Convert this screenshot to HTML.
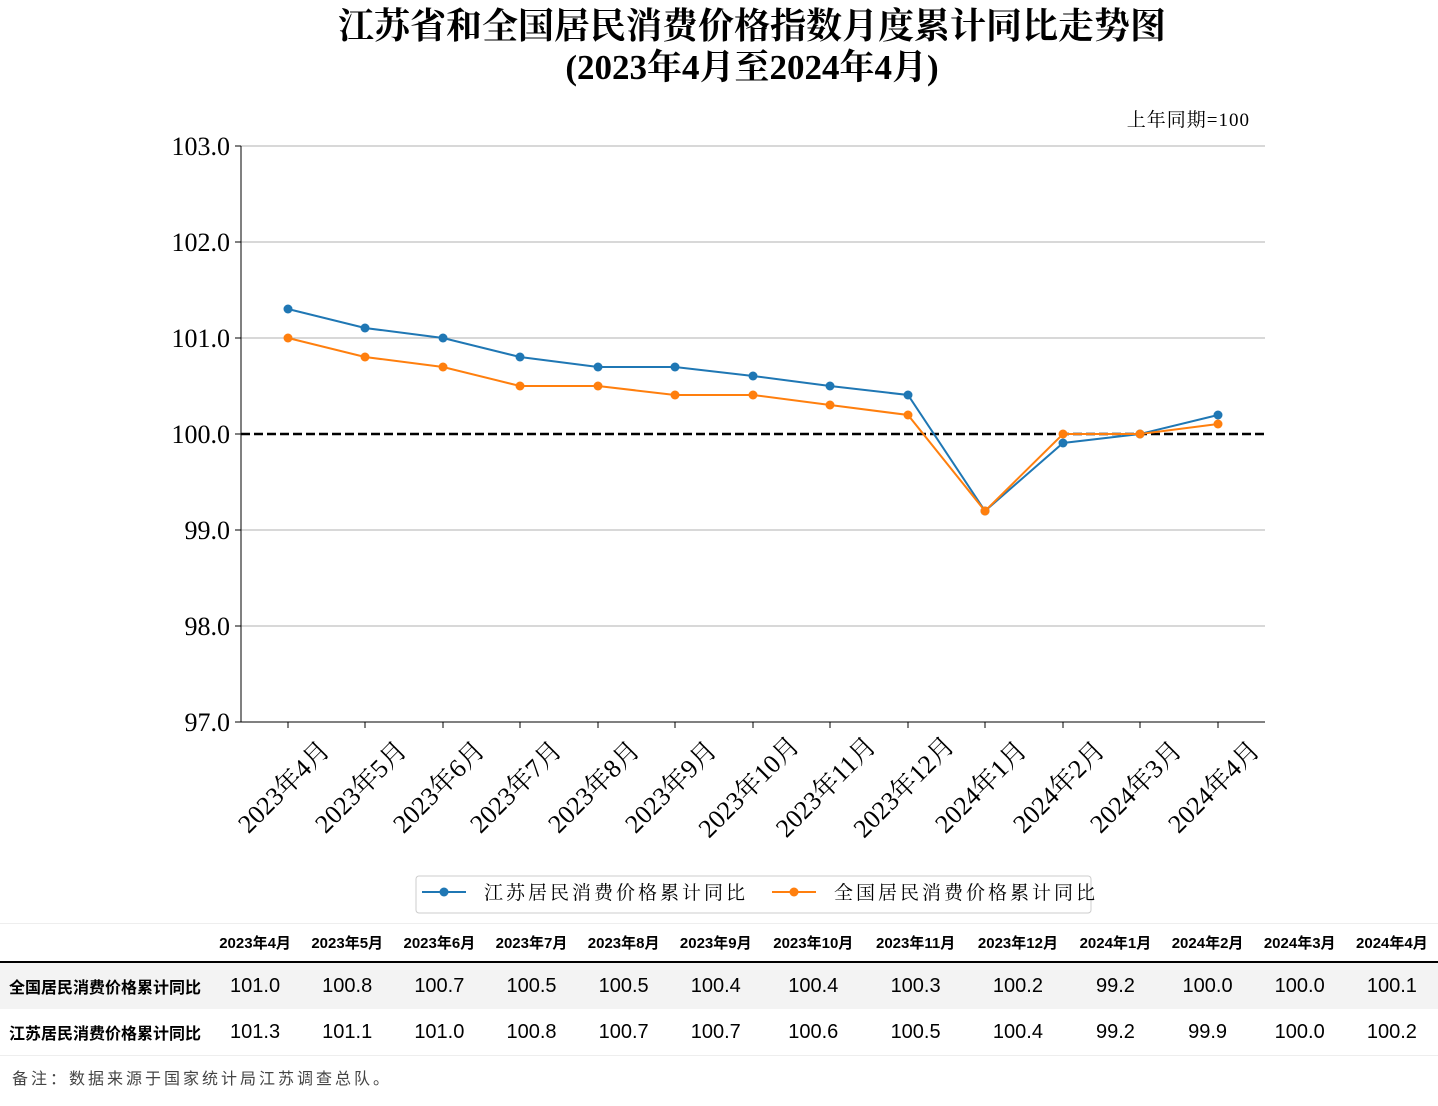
<!DOCTYPE html>
<html><head><meta charset="utf-8"><style>
body{margin:0;width:1438px;height:1106px;background:#fff;position:relative;overflow:hidden;font-family:"Liberation Serif","Noto Serif CJK SC",serif}
.t{position:absolute;left:32px;width:1440px;text-align:center;color:#000;font-weight:bold}
table{position:absolute;left:0;top:923px;width:1438px;border-collapse:collapse;font-family:"Liberation Sans","Noto Sans CJK SC",sans-serif}
td,th{padding:0;text-align:center}
th{height:37px;font-size:15px;font-weight:bold;border-bottom:2px solid #000}
td{height:46px;font-size:20px}
td.l{text-align:left;padding-left:9px;font-weight:bold;font-size:16px;width:200px}
</style></head><body>
<div class="t" style="top:5px;font-size:36px;line-height:42px">江苏省和全国居民消费价格指数月度累计同比走势图</div>
<div class="t" style="top:47px;font-size:35px;line-height:42px">(2023年4月至2024年4月)</div>
<svg width="1438" height="920" style="position:absolute;left:0;top:0" font-family="Liberation Serif, Noto Serif CJK SC, serif">
<text x="1250" y="126" font-size="19" text-anchor="end" letter-spacing="1">上年同期=100</text>
<g stroke="#b0b0b0" stroke-width="1">
<line x1="241" x2="1265" y1="146" y2="146"/><line x1="241" x2="1265" y1="242" y2="242"/><line x1="241" x2="1265" y1="338" y2="338"/><line x1="241" x2="1265" y1="530" y2="530"/><line x1="241" x2="1265" y1="626" y2="626"/></g>
<line x1="241" x2="1265" y1="434" y2="434" stroke="#000" stroke-width="2.5" stroke-dasharray="9,4"/>
<line x1="241" x2="241" y1="146" y2="722" stroke="#000"/>
<line x1="241" x2="1265" y1="722" y2="722" stroke="#000"/>
<g font-size="26" text-anchor="end">
<text x="230" y="155">103.0</text><text x="230" y="251">102.0</text><text x="230" y="347">101.0</text><text x="230" y="443">100.0</text><text x="230" y="539">99.0</text><text x="230" y="635">98.0</text><text x="230" y="731">97.0</text></g>
<g stroke="#000"><line x1="235" x2="241" y1="146" y2="146"/><line x1="235" x2="241" y1="242" y2="242"/><line x1="235" x2="241" y1="338" y2="338"/><line x1="235" x2="241" y1="434" y2="434"/><line x1="235" x2="241" y1="530" y2="530"/><line x1="235" x2="241" y1="626" y2="626"/><line x1="235" x2="241" y1="722" y2="722"/></g>
<g id="xt" stroke="#000" font-size="26"></g>
<polyline fill="none" stroke="#1f77b4" stroke-width="2" points="288,309 365,328 443,338 520,357 598,367 675,367 753,376 830,386 908,395 985,511 1063,443 1140,434 1218,415"/>
<polyline fill="none" stroke="#ff7f0e" stroke-width="2" points="288,338 365,357 443,367 520,386 598,386 675,395 753,395 830,405 908,415 985,511 1063,434 1140,434 1218,424"/>
<g fill="#1f77b4"><circle cx="288" cy="309" r="4.5"/><circle cx="365" cy="328" r="4.5"/><circle cx="443" cy="338" r="4.5"/><circle cx="520" cy="357" r="4.5"/><circle cx="598" cy="367" r="4.5"/><circle cx="675" cy="367" r="4.5"/><circle cx="753" cy="376" r="4.5"/><circle cx="830" cy="386" r="4.5"/><circle cx="908" cy="395" r="4.5"/><circle cx="985" cy="511" r="4.5"/><circle cx="1063" cy="443" r="4.5"/><circle cx="1140" cy="434" r="4.5"/><circle cx="1218" cy="415" r="4.5"/></g>
<g fill="#ff7f0e"><circle cx="288" cy="338" r="4.5"/><circle cx="365" cy="357" r="4.5"/><circle cx="443" cy="367" r="4.5"/><circle cx="520" cy="386" r="4.5"/><circle cx="598" cy="386" r="4.5"/><circle cx="675" cy="395" r="4.5"/><circle cx="753" cy="395" r="4.5"/><circle cx="830" cy="405" r="4.5"/><circle cx="908" cy="415" r="4.5"/><circle cx="985" cy="511" r="4.5"/><circle cx="1063" cy="434" r="4.5"/><circle cx="1140" cy="434" r="4.5"/><circle cx="1218" cy="424" r="4.5"/></g>
<rect x="416" y="876" width="675" height="37" rx="3" fill="#fff" stroke="#ccc"/>
<line x1="422" x2="466" y1="892" y2="892" stroke="#1f77b4" stroke-width="2"/><circle cx="444" cy="892" r="4.5" fill="#1f77b4"/>
<text x="484" y="899" font-size="19" letter-spacing="3">江苏居民消费价格累计同比</text>
<line x1="772" x2="816" y1="892" y2="892" stroke="#ff7f0e" stroke-width="2"/><circle cx="794" cy="892" r="4.5" fill="#ff7f0e"/>
<text x="834" y="899" font-size="19" letter-spacing="3">全国居民消费价格累计同比</text>
</svg>
<script>
var xs=[288,365,443,520,598,675,753,830,908,985,1063,1140,1218],
lb=["2023年4月","2023年5月","2023年6月","2023年7月","2023年8月","2023年9月","2023年10月","2023年11月","2023年12月","2024年1月","2024年2月","2024年3月","2024年4月"],h="";
for(var i=0;i<13;i++){h+='<line x1="'+xs[i]+'" x2="'+xs[i]+'" y1="722" y2="728"/>';h+='<text stroke="none" text-anchor="middle" transform="translate('+(xs[i]+2)+',793) rotate(-45)">'+lb[i]+'</text>';}
document.getElementById("xt").innerHTML=h;
</script>
<table>
<tr style="border-top:1px solid #eee"><th></th><th>2023年4月</th><th>2023年5月</th><th>2023年6月</th><th>2023年7月</th><th>2023年8月</th><th>2023年9月</th><th>2023年10月</th><th>2023年11月</th><th>2023年12月</th><th>2024年1月</th><th>2024年2月</th><th>2024年3月</th><th>2024年4月</th></tr>
<tr style="background:#f3f3f3"><td class="l">全国居民消费价格累计同比</td><td>101.0</td><td>100.8</td><td>100.7</td><td>100.5</td><td>100.5</td><td>100.4</td><td>100.4</td><td>100.3</td><td>100.2</td><td>99.2</td><td>100.0</td><td>100.0</td><td>100.1</td></tr>
<tr style="border-bottom:1px solid #eee"><td class="l">江苏居民消费价格累计同比</td><td>101.3</td><td>101.1</td><td>101.0</td><td>100.8</td><td>100.7</td><td>100.7</td><td>100.6</td><td>100.5</td><td>100.4</td><td>99.2</td><td>99.9</td><td>100.0</td><td>100.2</td></tr>
</table>
<div style="position:absolute;left:12px;top:1065px;font-size:16px;letter-spacing:3px;color:#444;font-family:'Liberation Sans','Noto Sans CJK SC',sans-serif">备注：数据来源于国家统计局江苏调查总队。</div>
</body></html>
